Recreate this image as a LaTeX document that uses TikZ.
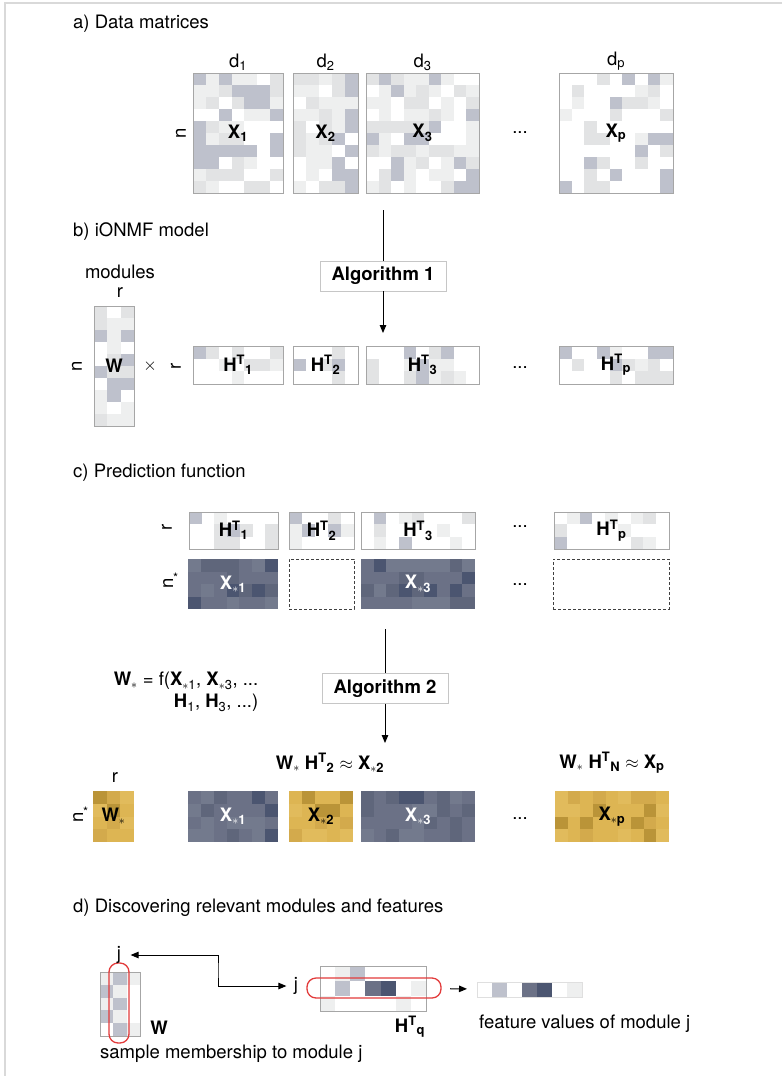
\documentclass[tikz,border=0pt]{standalone}
\usepackage{fontspec}
\setmainfont{TeX Gyre Heros}
\usepackage{xcolor}
\usepackage{tikz}
\usetikzlibrary{positioning,backgrounds,arrows.meta,calc}
\definecolor{framegray}{HTML}{D9D9D9}
\definecolor{boxgray}{HTML}{C6C6C6}
\definecolor{cellL}{HTML}{EEEFEF}
\definecolor{cellM}{HTML}{E2E3E4}
\definecolor{cellB}{HTML}{BEC1CC}
\definecolor{slateA}{HTML}{6B7186}
\definecolor{slateB}{HTML}{5F667B}
\definecolor{slateC}{HTML}{4B5570}
\definecolor{slateD}{HTML}{737A8D}
\definecolor{goldA}{HTML}{DDB553}
\definecolor{goldB}{HTML}{D3AA4C}
\definecolor{goldC}{HTML}{BA9438}
\definecolor{goldD}{HTML}{E1BB5C}
\definecolor{selred}{HTML}{E23B3B}
% --- palettes: eight shades each, picked at random per cell ---
\colorlet{lite1}{white}\colorlet{lite2}{white}\colorlet{lite3}{cellL}\colorlet{lite4}{cellL}
\colorlet{lite5}{cellM}\colorlet{lite6}{cellM}\colorlet{lite7}{cellB}\colorlet{lite8}{cellB}
\colorlet{sparse1}{white}\colorlet{sparse2}{white}\colorlet{sparse3}{white}\colorlet{sparse4}{white}
\colorlet{sparse5}{white}\colorlet{sparse6}{cellL}\colorlet{sparse7}{cellM}\colorlet{sparse8}{cellB}
\colorlet{slate1}{slateA}\colorlet{slate2}{slateA}\colorlet{slate3}{slateB}\colorlet{slate4}{slateB}
\colorlet{slate5}{slateD}\colorlet{slate6}{slateD}\colorlet{slate7}{slateC}\colorlet{slate8}{slateA}
\colorlet{gold1}{goldA}\colorlet{gold2}{goldA}\colorlet{gold3}{goldD}\colorlet{gold4}{goldD}
\colorlet{gold5}{goldB}\colorlet{gold6}{goldB}\colorlet{gold7}{goldC}\colorlet{gold8}{goldA}
\newcommand{\fs}{\fontsize{18.5}{22}\selectfont}
\tikzset{
  % --- matrices ---
  mat/.style={draw=gray!70, line width=0.8pt, inner sep=0pt, outer sep=0pt,
              font=\fs\bfseries},
  slab/.style={inner sep=0pt, outer sep=0pt, font=\fs\bfseries},
  hole/.style={draw=black!75, densely dashed, line width=0.8pt,
               inner sep=0pt, outer sep=0pt},
  % --- boxes, arrows, selections ---
  algo/.style={draw=boxgray, fill=white, font=\fs\bfseries, line width=0.8pt,
               minimum width=126pt, minimum height=30pt},
  flow/.style={-{Triangle[length=8pt,width=6.5pt]}, line width=1pt},
  sel/.style={draw=selred, line width=1.3pt, rounded corners=9pt,
              inner sep=0pt, outer sep=0pt},
  title/.style={anchor=west, inner sep=0pt},
  frame/.style={draw=framegray, line width=2pt},
}
% random cells under a matrix node: node, cols, rows, cell w, cell h, palette
\newcommand{\cellfill}[6]{%
  \begin{scope}[on background layer, shift={(#1.north west)}]
    \foreach \ci in {1,...,#2}{
      \foreach \cj in {1,...,#3}{
        \pgfmathrandominteger{\ck}{1}{8}
        \fill[#6\ck] ({(\ci-1)*#4},{(\cj-1)*#5}) rectangle ++(#4,#5);
      }
    }
  \end{scope}}
% fixed cells, row by row: node, cell w, cell h, rows
\newcommand{\cellrows}[4]{%
  \begin{scope}[on background layer, shift={(#1.north west)}]
    \foreach \crow [count=\cj] in {#4}{
      \foreach \cc [count=\ci] in \crow
        \fill[\cc] ({(\ci-1)*#2},{(\cj-1)*#3}) rectangle ++(#2,#3);
    }
  \end{scope}}
\newcommand{\sstar}{\textsubscript{$\ast$}}

\begin{document}
\begin{tikzpicture}[x=1pt, y=-1pt, font=\fs]
  \pgfmathsetseed{11}
  \useasboundingbox (0,0) rectangle (782,1076);
  \draw[frame] (782,3) -| (5,1076);

  % --- a) data matrices ---
  \node[title] (ta) at (73,24) {a) Data matrices};
  \node[mat, minimum width=90,  minimum height=120] (Xa1) at (238,133)   {X\textsubscript{1}};
  \node[mat, minimum width=65,  minimum height=120] (Xa2) at (325.5,133) {X\textsubscript{2}};
  \node[mat, minimum width=113, minimum height=120] (Xa3) at (422.5,133) {X\textsubscript{3}};
  \node[mat, minimum width=114, minimum height=120] (Xap) at (616,133)   {X\textsubscript{p}};
  \cellfill{Xa1}{7}{10}{90/7}{12}{lite}
  \cellfill{Xa2}{5}{10}{13}{12}{lite}
  \cellfill{Xa3}{9}{10}{113/9}{12}{lite}
  \cellfill{Xap}{9}{10}{114/9}{12}{sparse}
  \node[above=-1pt of Xa1] (d1) {d\textsubscript{1}};
  \node[above=-1pt of Xa2] (d2) {d\textsubscript{2}};
  \node[above=-1pt of Xa3] (d3) {d\textsubscript{3}};
  \node[above=-1pt of Xap] (dp) {d\textsubscript{p}};
  \node[rotate=90] (na) at (181,133) {n};
  \node (dotsa) at (520,133) {...};

  % --- b) iONMF model ---
  \node[title] (tb) at (73,232) {b) iONMF model};
  \node (mods) at (120,272) {modules};
  \node (rb) at (120,293) {r};
  \node[mat, minimum width=40, minimum height=120] (Wb) at (114,366) {W};
  \cellfill{Wb}{3}{10}{40/3}{12}{lite}
  \node[rotate=90] (nb) at (77,366) {n};
  \node (times) at (150,366) {$\times$};
  \node[rotate=90] (rb2) at (176,366) {r};
  \node[mat, minimum width=90,  minimum height=38] (Hb1) at (238,365)   {H\textsuperscript{T}\textsubscript{1}};
  \node[mat, minimum width=65,  minimum height=38] (Hb2) at (325.5,365) {H\textsuperscript{T}\textsubscript{2}};
  \node[mat, minimum width=113, minimum height=38] (Hb3) at (422.5,365) {H\textsuperscript{T}\textsubscript{3}};
  \node[mat, minimum width=114, minimum height=38] (Hbp) at (616,365)   {H\textsuperscript{T}\textsubscript{p}};
  \cellfill{Hb1}{7}{3}{90/7}{38/3}{sparse}
  \cellfill{Hb2}{5}{3}{13}{38/3}{sparse}
  \cellfill{Hb3}{9}{3}{113/9}{38/3}{sparse}
  \cellfill{Hbp}{9}{3}{114/9}{38/3}{sparse}
  \node (dotsb) at (520,368) {...};
  \node[algo] (alg1) at (383,276) {Algorithm 1};
  \draw[line width=1pt, shorten <=17pt] (alg1 |- Xa3.south) -- (alg1);
  \draw[flow, shorten >=13pt] (alg1) -- (alg1 |- Hb3.north);

  % --- c) prediction function ---
  \node[title] (tc) at (73,473) {c) Prediction function};
  \node[mat, minimum width=89,  minimum height=37] (Hc1) at (233.5,530.5) {H\textsuperscript{T}\textsubscript{1}};
  \node[mat, minimum width=65,  minimum height=37] (Hc2) at (321.5,530.5) {H\textsuperscript{T}\textsubscript{2}};
  \node[mat, minimum width=114, minimum height=37] (Hc3) at (418,530.5)   {H\textsuperscript{T}\textsubscript{3}};
  \node[mat, minimum width=115, minimum height=37] (Hcp) at (611.5,530.5) {H\textsuperscript{T}\textsubscript{p}};
  \cellfill{Hc1}{7}{3}{89/7}{37/3}{sparse}
  \cellfill{Hc2}{5}{3}{13}{37/3}{sparse}
  \cellfill{Hc3}{9}{3}{114/9}{37/3}{sparse}
  \cellfill{Hcp}{9}{3}{115/9}{37/3}{sparse}
  \node[slab, text=white, minimum width=90,  minimum height=50] (Xc1) at (233,584) {X\textsubscript{$\ast$1}};
  \node[hole, minimum width=65,  minimum height=50] (Xc2) at (321.5,584) {};
  \node[slab, text=white, minimum width=114, minimum height=50] (Xc3) at (418,584) {X\textsubscript{$\ast$3}};
  \node[hole, minimum width=116, minimum height=50] (Xcp) at (611,584) {};
  \cellfill{Xc1}{7}{4}{90/7}{12.5}{slate}
  \cellfill{Xc3}{9}{4}{114/9}{12.5}{slate}
  \node[rotate=90] (rc) at (167,527) {r};
  \node (nc) at (171,581) {\rotatebox{90}{n}\textsuperscript{*}};
  \node (dotsc1) at (520,527) {...};
  \node (dotsc2) at (520,585) {...};
  \node[align=right] (fdef) at (186,692)
        {\textbf{W}\sstar{} = f(\textbf{X}\textsubscript{$\ast$1}, \textbf{X}\textsubscript{$\ast$3}, ...\\
         \textbf{H}\textsubscript{1},\ \textbf{H}\textsubscript{3}, ...)};
  \node[algo] (alg2) at (385,688.5) {Algorithm 2};

  % --- prediction result ---
  \node (rr) at (115,778) {r};
  \node[slab, minimum width=41, minimum height=51] (Wr) at (113.5,816.5) {W\sstar};
  \cellfill{Wr}{3}{4}{41/3}{51/4}{gold}
  \node (nr) at (81,815) {\rotatebox{90}{n}\textsuperscript{*}};
  \node[slab, text=white, minimum width=90,  minimum height=51] (Xr1) at (233,816.5) {X\textsubscript{$\ast$1}};
  \node[slab, minimum width=64,  minimum height=51] (Xr2) at (321,816.5) {X\textsubscript{$\ast$2}};
  \node[slab, text=white, minimum width=114, minimum height=51] (Xr3) at (418,816.5) {X\textsubscript{$\ast$3}};
  \node[slab, minimum width=114, minimum height=51] (Xrp) at (612,816.5) {X\textsubscript{$\ast$p}};
  \cellfill{Xr1}{7}{4}{90/7}{51/4}{slate}
  \cellfill{Xr2}{5}{4}{64/5}{51/4}{gold}
  \cellfill{Xr3}{9}{4}{114/9}{51/4}{slate}
  \cellfill{Xrp}{9}{4}{114/9}{51/4}{gold}
  \node (dotsr) at (520,819) {...};
  \node[font=\fs\bfseries] (eq2) at (330,763)
        {W\sstar{} H\textsuperscript{T}\textsubscript{2} $\approx$ X\textsubscript{$\ast$2}};
  \node[font=\fs\bfseries] (eqp) at (612,763)
        {W\sstar{} H\textsuperscript{T}\textsubscript{N} $\approx$ X\textsubscript{p}};
  \draw[line width=1pt, shorten <=20pt] (alg2 |- Xc3.south) -- (alg2);
  \draw[flow, shorten >=48pt] (alg2) -- (alg2 |- Xr3.north);

  % --- d) discovering modules and features ---
  \node[title] (td) at (73,908) {d) Discovering relevant modules and features};
  \node[mat, minimum width=40, minimum height=64] (Wd) at (120,1004) {};
  \cellrows{Wd}{40/3}{12.8}{{cellL,cellB,cellL},{cellB,cellL,white},{cellL,cellB,white},
                             {cellB,cellL,white},{white,cellB,cellL}}
  \node[sel, minimum width=20, minimum height=80] (wsel) at (119,1003) {};
  \node (jw) at (119,955) {j};
  \node[font=\fs\bfseries] (wlab) at (159,1028) {W};
  \node[anchor=west, inner sep=0pt] (memb) at (100,1054) {sample membership to module j};
  \node[mat, minimum width=106, minimum height=45] (Hd) at (373,988.5) {};
  \cellrows{Hd}{106/7}{15}{{white,cellL,cellB,white,white,white,white},
                           {white,cellB,white,slateA,slateC,white,cellL},
                           {cellL,white,white,white,white,cellL,white}}
  \node[sel, minimum width=134, minimum height=20] (hsel) at (374,988) {};
  \node (jh) at (296,986) {j};
  \node[font=\fs\bfseries] (hlab) at (410,1027) {H\textsuperscript{T}\textsubscript{q}};
  \node[draw=gray!25, inner sep=0pt, outer sep=0pt, minimum width=105, minimum height=15] (feat) at (529.5,989.5) {};
  \cellrows{feat}{15}{15}{{white,cellB,white,slateA,slateC,white,cellL}}
  \node[anchor=west, inner sep=0pt] (flab) at (479,1024) {feature values of module j};
  \coordinate (bend) at (218,970);
  \draw[{Triangle[length=8pt,width=6.5pt]}-{Triangle[length=8pt,width=6.5pt]},
        line width=1pt, shorten <=6pt, shorten >=4pt] (jw) -| (bend) |- (jh);
  \draw[flow, shorten <=9pt, shorten >=10pt] (hsel) -- (feat);
\end{tikzpicture}
\end{document}
